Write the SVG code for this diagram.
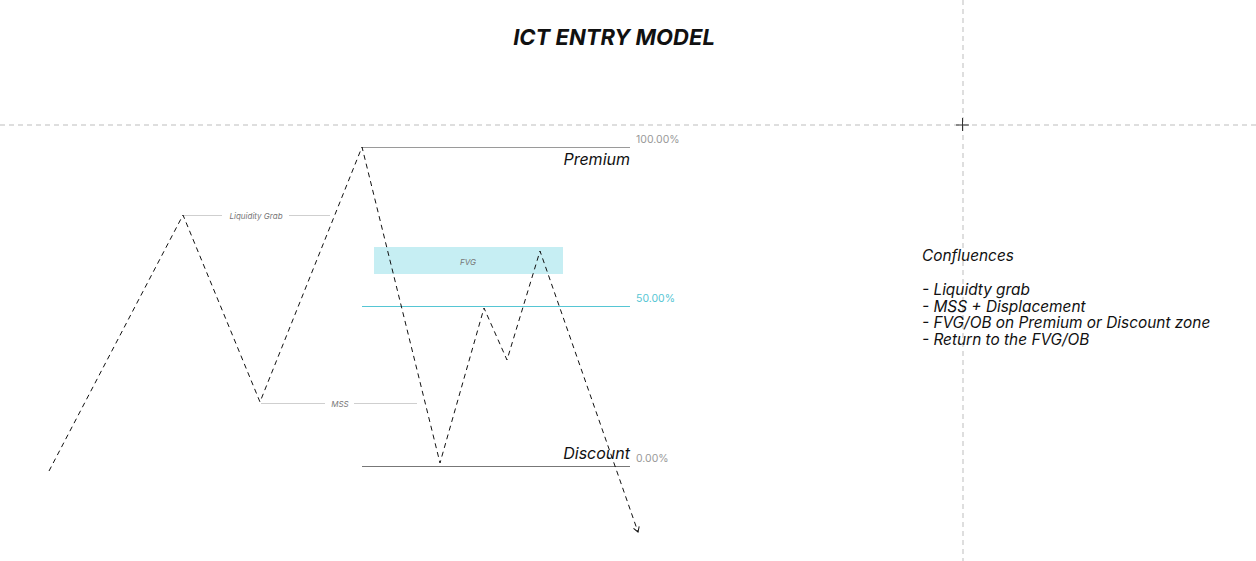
<svg xmlns="http://www.w3.org/2000/svg" width="1256" height="561" viewBox="0 0 1256 561">
<style>
text{font-family:Inter,"Liberation Sans",sans-serif;font-style:italic}
.zig{fill:none;stroke:#111;stroke-width:1;stroke-dasharray:5 4}
.lvl{stroke:#9a9a9a;stroke-width:1}
.ann{stroke:#cfcfcf;stroke-width:1}
.guide{stroke:#bdbdbd;stroke-width:1;stroke-dasharray:5 4}
.pct{font-style:normal;font-size:10.5px;fill:#999}
.small{font-size:8px;fill:#777}
.big{font-size:16px;fill:#111}
.list{font-size:15.4px;fill:#111}
</style>
<defs>
<marker id="arr" markerWidth="8" markerHeight="8" refX="6" refY="4" orient="auto" markerUnits="userSpaceOnUse">
<path d="M1,1 L6,4 L1,7" fill="none" stroke="#111" stroke-width="1"/>
</marker>
</defs>
<rect width="1256" height="561" fill="#fff"/>
<g id="guides">
<line class="guide" x1="0" y1="125" x2="1256" y2="125"/>
<line class="guide" x1="963" y1="0" x2="963" y2="561"/>
<line x1="956" y1="125" x2="969" y2="125" stroke="#333"/>
<line x1="962.5" y1="118" x2="962.5" y2="131" stroke="#333"/>
</g>
<g id="title"><text x="614" y="45" text-anchor="middle" font-size="22" font-weight="bold" fill="#111">ICT ENTRY MODEL</text></g>
<g id="fvg">
<rect x="374" y="247" width="189" height="27" fill="#c6eef3"/>
<text x="468" y="265" text-anchor="middle" class="small">FVG</text>
</g>
<g id="levels">
<line class="lvl" x1="362" y1="147.5" x2="630" y2="147.5"/>
<line x1="362" y1="306.5" x2="630" y2="306.5" stroke="#56c6d4" stroke-width="1"/>
<line x1="362" y1="466.5" x2="630" y2="466.5" stroke="#777" stroke-width="1"/>
<text x="636" y="143" class="pct">100.00%</text>
<text x="636" y="302" class="pct" style="fill:#56c6d4">50.00%</text>
<text x="636" y="462" class="pct">0.00%</text>
<text x="630" y="165" text-anchor="end" class="big">Premium</text>
<text x="630" y="459" text-anchor="end" class="big">Discount</text>
</g>
<g id="liquidity-grab">
<line class="ann" x1="184" y1="215.5" x2="222" y2="215.5"/>
<line class="ann" x1="289" y1="215.5" x2="330" y2="215.5"/>
<text x="256" y="218.5" text-anchor="middle" class="small">Liquidity Grab</text>
</g>
<g id="mss">
<line class="ann" x1="261" y1="403.5" x2="325" y2="403.5"/>
<line class="ann" x1="354" y1="403.5" x2="417" y2="403.5"/>
<text x="340" y="406.5" text-anchor="middle" class="small">MSS</text>
</g>
<g id="connectors">
<polyline class="zig" points="49,471 183,215 260,402 362,147 440,463 484,308 507,360 540,251 638,532" marker-end="url(#arr)"/>
</g>
<g id="confluences">
<text x="922" y="261" class="list">Confluences</text>
<text x="922" y="295" class="list">- Liquidty grab</text>
<text x="922" y="311.5" class="list">- MSS + Displacement</text>
<text x="922" y="328" class="list">- FVG/OB on Premium or Discount zone</text>
<text x="922" y="344.5" class="list">- Return to the FVG/OB</text>
</g>
</svg>
